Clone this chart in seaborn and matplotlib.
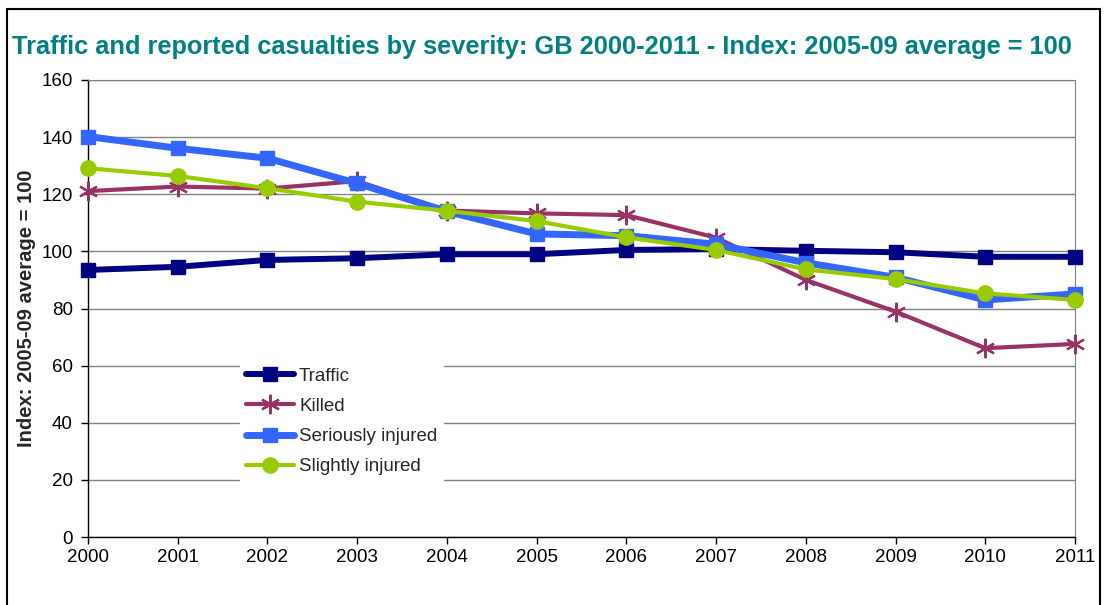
import seaborn as sns
import matplotlib.pyplot as plt
import pandas as pd
from matplotlib.patches import Rectangle

# Data
years = list(range(2000, 2012))
traffic = [93.5, 94.6, 97.0, 97.6, 99.0, 99.0, 100.5, 100.8, 100.2, 99.7, 98.1, 98.1]
killed = [121.1, 122.7, 122.0, 124.6, 114.3, 113.3, 112.7, 104.8, 90.0, 78.9, 66.1, 67.6]
serious = [140.2, 136.1, 132.6, 123.8, 114.0, 106.1, 105.5, 102.5, 96.0, 90.9, 83.0, 85.1]
slight = [129.1, 126.4, 122.1, 117.4, 114.2, 110.6, 104.9, 100.5, 93.7, 90.3, 85.3, 83.0]

series_names = ["Traffic", "Killed", "Seriously injured", "Slightly injured"]
yticks = [0, 20, 40, 60, 80, 100, 120, 140, 160]

df = pd.DataFrame({"year": years, "Traffic": traffic, "Killed": killed,
                   "Seriously injured": serious, "Slightly injured": slight})

sns.set_style("white")
plt.rcParams['font.family'] = ['Liberation Sans', 'DejaVu Sans']

fig = plt.figure(figsize=(11.04, 6.05), dpi=100)
ax = fig.add_axes([88 / 1104, 1 - 537 / 605, 987 / 1104, 457 / 605])

styles = {
    "Traffic": dict(color="#000080", marker="s", lw=4.3, ms=10),
    "Killed": dict(color="#993366", marker=(6, 2, 0), lw=3.0, ms=14, mew=1.6),
    "Seriously injured": dict(color="#3366FF", marker="s", lw=5.0, ms=10),
    "Slightly injured": dict(color="#99CC00", marker="o", lw=3.0, ms=11),
}

for name in series_names:
    st = styles[name]
    sns.lineplot(data=df, x="year", y=name, ax=ax, color=st["color"],
                 marker=st["marker"], linewidth=st["lw"], markersize=st["ms"],
                 markeredgecolor=st["color"], markeredgewidth=st.get("mew", 1),
                 label=name, clip_on=False, zorder=3)

ax.set_xlim(2000, 2011)
ax.set_ylim(0, 160)
ax.set_xticks(years)
ax.set_xticklabels([str(y) for y in years])
ax.set_yticks(yticks)
ax.tick_params(axis='both', labelsize=13.5, colors='black', direction='out',
               length=5, width=1, left=True, bottom=True)
ax.tick_params(axis='y', pad=6)
ax.tick_params(axis='x', pad=4)
ax.grid(axis='y', color='#808080', linewidth=1)
ax.set_axisbelow(True)
ax.set_xlabel("")
ax.set_ylabel("Index: 2005-09 average = 100", fontsize=14.5, fontweight='bold',
              labelpad=4)

for side in ["left", "bottom"]:
    ax.spines[side].set_color("black")
    ax.spines[side].set_linewidth(1)
ax.spines["right"].set_color("#808080")
ax.spines["top"].set_color("#808080")
ax.spines["top"].set_visible(True)
ax.spines["right"].set_visible(True)

leg = ax.legend(loc='upper left', bbox_to_anchor=(0.154, 0.383), fontsize=13.5,
                frameon=True, fancybox=False, framealpha=1, facecolor='white',
                edgecolor='white', handlelength=2.6, handletextpad=0.25,
                labelspacing=0.7, borderpad=0.3, borderaxespad=0)
leg.set_zorder(5)

fig.text(12 / 1104, 1 - 47 / 605,
         "Traffic and reported casualties by severity: GB 2000-2011 - Index: 2005-09 average = 100",
         fontsize=18.3, fontweight='bold', color='#008080', ha='left', va='center')

# outer chart border
fig.add_artist(Rectangle((7 / 1104, -0.05), 1093 / 1104, 1.05 - 9 / 605,
                         transform=fig.transFigure, fill=False,
                         edgecolor='black', linewidth=1.5))

fig.savefig("out.png", dpi=100)
